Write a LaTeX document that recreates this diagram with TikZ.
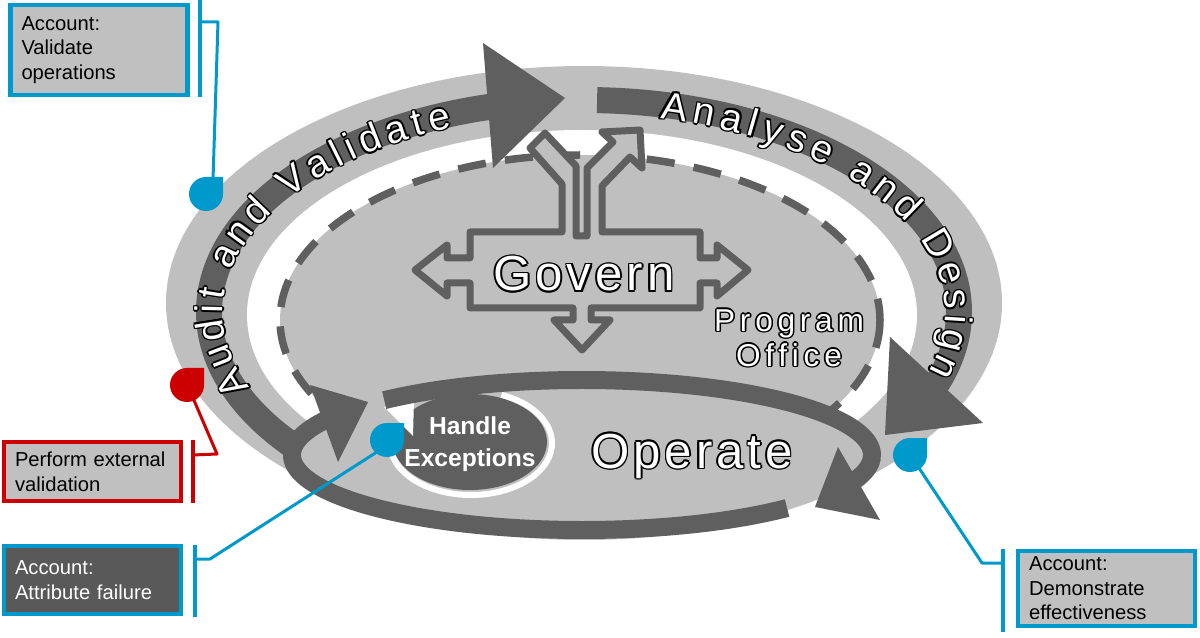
\documentclass[tikz,border=0pt]{standalone}
\usepackage{fontspec}
\setmainfont{Liberation Sans}
\newfontfamily\govfont[LetterSpace=8]{Liberation Sans}
\newfontfamily\officefont[LetterSpace=15]{Liberation Sans}
\usetikzlibrary{decorations.text}

\definecolor{ringgray}{HTML}{BFBFBF}
\definecolor{bandgray}{HTML}{5F5F5F}
\definecolor{boxgray}{HTML}{C0C0C0}
\definecolor{boxdark}{HTML}{595959}
\definecolor{pinblue}{HTML}{0099CC}
\definecolor{pinred}{HTML}{CC0000}

\newcommand\bandfont{\fontsize{22}{26}\selectfont}
\newcommand\boxfont{\fontsize{11.5}{14}\selectfont}
\newcommand\haloed[1]{\leavevmode
  \rlap{\color{black}\kern0.9pt#1}\rlap{\color{black}\kern-0.9pt#1}%
  \rlap{\color{black}\raisebox{0.9pt}{#1}}\rlap{\color{black}\raisebox{-0.9pt}{#1}}%
  \rlap{\color{black}\kern0.65pt\raisebox{0.65pt}{#1}}\rlap{\color{black}\kern-0.65pt\raisebox{0.65pt}{#1}}%
  \rlap{\color{black}\kern0.65pt\raisebox{-0.65pt}{#1}}\rlap{\color{black}\kern-0.65pt\raisebox{-0.65pt}{#1}}%
  {\color{white}#1}}

\begin{document}
\begin{tikzpicture}[x=0.02cm, y=-0.02cm,
    bandarc/.style={draw=bandgray, line width=0.52cm},
    ringarc/.style={draw=bandgray, line width=0.36cm},
    headfill/.style={fill=bandgray},
    bandtext/.style={decorate, decoration={text along path, text align={fit to path}, raise=-7.8pt, text={|\bandfont|#1}}},
    callout/.style={line width=0.09cm, fill=boxgray, minimum width=3.55cm, text width=3.1cm, align=left, inner sep=0pt, font=\boxfont},
    bracket/.style={line width=0.08cm},
    pinline/.style={line width=0.06cm, line join=round},
    govline/.style={draw=bandgray, fill=ringgray, line width=0.14cm, line join=round},
  ]
    \fill[white] (0,0) rectangle (1200,638);
    \useasboundingbox (0,0) rectangle (1200,638);

    % rings
    \fill[ringgray] (584,303) circle[x radius=418, y radius=237];
    \fill[white] (582,315) circle[x radius=335, y radius=185];
    \fill[ringgray] (580,320) circle[x radius=300, y radius=165];
    \draw[bandgray, line width=0.15cm, dash pattern=on 16pt off 11pt] (580,320) circle[x radius=300, y radius=165];

    % audit / analyse bands
    \draw[bandarc] ([shift={(584,312)}]141:375 and 212) arc[start angle=141, end angle=257, x radius=375, y radius=212];
    \fill[headfill] (483,43) -- (565,98) -- (493,168) -- cycle;
    \draw[bandarc] ([shift={(584,312)}]272:375 and 212) arc[start angle=272, end angle=388, x radius=375, y radius=212];
    \fill[headfill] (890,337) -- (983,423) -- (885,435) -- cycle;

    % operate loop
    \fill[ringgray] (582,455) circle[x radius=290, y radius=75];
    \fill[bandgray] (470,442) circle[x radius=77, y radius=48];
    \draw[white, line width=0.12cm] ([shift={(471,443)}]-68:81 and 52) arc[start angle=-68, end angle=175, x radius=81, y radius=52];
    \fill[white] (384,407) -- (414,399) -- (413,436) -- cycle;
    \draw[ringarc] ([shift={(582,455)}]227:290 and 75) arc[start angle=227, end angle=384, x radius=290, y radius=75];
    \fill[headfill] (838,447) -- (880,520) -- (815,507) -- cycle;
    \draw[ringarc] ([shift={(582,455)}]45:290 and 75) arc[start angle=45, end angle=208, x radius=290, y radius=75];
    \fill[headfill] (310,385) -- (368,402) -- (338,462) -- cycle;

    % govern symbol
    \filldraw[govline] (470,232) -- (562,232) -- (562,184) -- (530,148) -- (545,133) -- (576,166)
      -- (576,236) -- (587,236) -- (587,168) -- (613,142) -- (602,132) -- (640,130) -- (642,168)
      -- (630,157) -- (602,186) -- (602,232) -- (700,232) -- (700,258) -- (717,258) -- (717,245)
      -- (748,270) -- (717,296) -- (717,283) -- (700,283) -- (700,308) -- (591,308) -- (591,320)
      -- (610,320) -- (582,350) -- (554,320) -- (573,320) -- (573,308) -- (470,308) -- (470,283)
      -- (447,283) -- (447,296) -- (415,270) -- (447,245) -- (447,258) -- (470,258) -- cycle;

    % band texts
    \foreach \hx/\hy in {0.9/0,-0.9/0,0/0.9,0/-0.9,0.65/0.65,-0.65/0.65,0.65/-0.65,-0.65/-0.65}{
      \path[bandtext={Audit and Validate}, decoration={text color=black}, xshift=\hx pt, yshift=\hy pt]
        ([shift={(584,312)}]157:375 and 212) arc[start angle=157, end angle=249, x radius=375, y radius=212];
      \path[bandtext={Analyse and Design}, decoration={text color=black}, xshift=\hx pt, yshift=\hy pt]
        ([shift={(584,312)}]282:375 and 212) arc[start angle=282, end angle=378, x radius=375, y radius=212];
    }
    \path[bandtext={Audit and Validate}, decoration={text color=white}]
      ([shift={(584,312)}]157:375 and 212) arc[start angle=157, end angle=249, x radius=375, y radius=212];
    \path[bandtext={Analyse and Design}, decoration={text color=white}]
      ([shift={(584,312)}]282:375 and 212) arc[start angle=282, end angle=378, x radius=375, y radius=212];

    % labels
    \node[inner sep=0pt, anchor=base, font=\govfont\fontsize{28}{32}\selectfont] (govern) at (584,291) {\haloed{Govern}};
    \node[inner sep=0pt, anchor=base, font=\govfont\fontsize{28}{32}\selectfont] (operate) at (692,468) {\haloed{Operate}};
    \node[inner sep=0pt, align=center, font=\officefont\fontsize{18}{20}\selectfont] (office) at (789,338) {\haloed{Program}\\\haloed{Office}};
    \node[inner sep=0pt, align=center, text=white, font=\bfseries\fontsize{14}{18}\selectfont] (handle) at (470,444) {Handle\\Exceptions};

    % callouts
    \node[callout, draw=pinblue, minimum height=1.8cm] (validate) at (99,50) {Account:\\Validate\\operations};
    \node[callout, draw=pinred, minimum height=1.18cm] (external) at (92.5,471.5) {Perform external\\validation};
    \node[callout, draw=pinblue, fill=boxdark, text=white, minimum height=1.36cm] (attribute) at (92.5,580) {Account:\\Attribute failure};
    \node[callout, draw=pinblue, minimum height=1.5cm] (effective) at (1106.5,588.5) {Account:\\Demonstrate\\effectiveness};

    \draw[bracket, pinblue] (200,0) -- (200,97);
    \draw[bracket, pinred] (193,440) -- (193,503);
    \draw[bracket, pinblue] (195,545) -- (195,617);
    \draw[bracket, pinblue] (1003,549) -- (1003,632);

    \coordinate (pinA) at (206,194);
    \coordinate (pinB) at (187,385);
    \coordinate (pinC) at (387,440);
    \coordinate (pinD) at (910,455);
    \coordinate (endA) at (213,180);
    \coordinate (endB) at (193,398);
    \coordinate (endC) at (380,450);
    \coordinate (endD) at (915,462);

    \draw[pinline, pinblue] (200,22) -- (218,22) -- (endA);
    \draw[pinline, pinred] (193,455) -- (217,454) -- (endB);
    \draw[pinline, pinblue] (195,559) -- (210,559) -- (endC);
    \draw[pinline, pinblue] (1003,563) -- (982,563) -- (endD);

    \foreach \p/\c in {pinA/pinblue, pinB/pinred, pinC/pinblue, pinD/pinblue}
      \fill[\c, shift={(\p)}] (17,0) -- (17,-17) -- (0,-17) arc[start angle=270, end angle=0, radius=17] -- cycle;
\end{tikzpicture}
\end{document}
